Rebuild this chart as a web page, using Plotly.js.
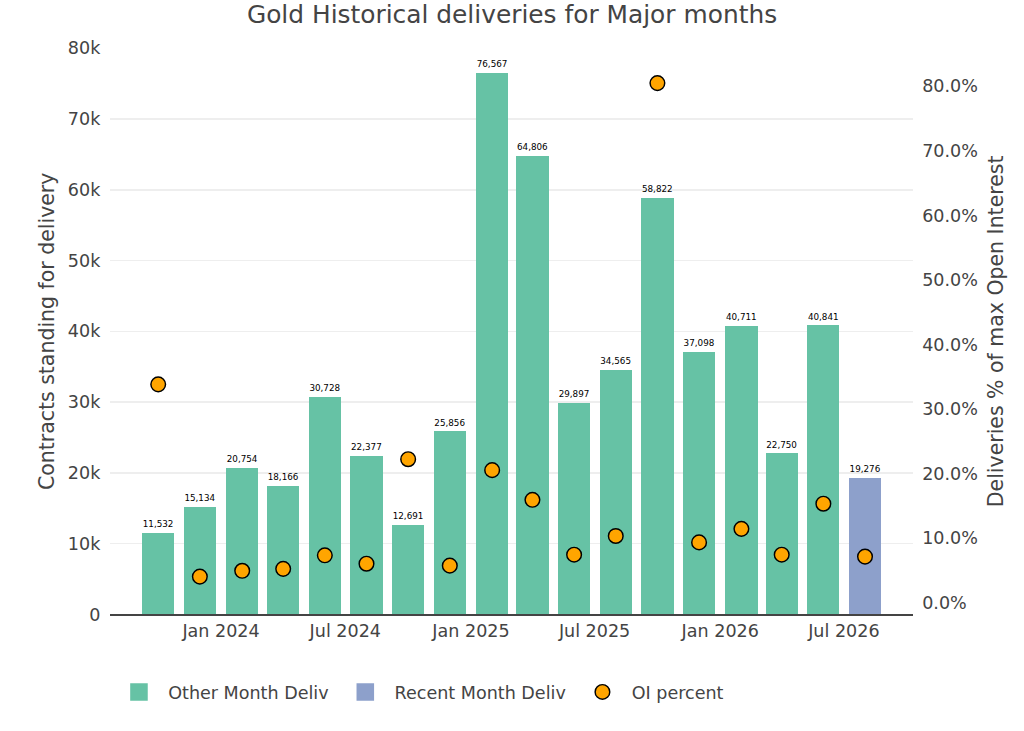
<!DOCTYPE html>
<html>
<head>
<meta charset="utf-8">
<script src="https://cdn.plot.ly/plotly-3.0.1.min.js"></script>
<style>
  html, body { margin: 0; padding: 0; background: #fff; width: 1024px; height: 731px; }
  #wrap { position: relative; width: 1024px; height: 731px; }
  /* chart is laid out at 700x500 and exported at ~1.463x, like the original png */
  #chart { position: absolute; left: 0; top: 0; width: 700px; height: 500px;
           transform: scale(1.462857); transform-origin: 0 0; }
</style>
</head>
<body>
<div id="wrap"><div id="chart"></div></div>
<script>
// delivery months (first of month)
const otherMonths = ['2023-10-01', '2023-12-01', '2024-02-01', '2024-04-01', '2024-06-01',
  '2024-08-01', '2024-10-01', '2024-12-01', '2025-02-01', '2025-04-01', '2025-06-01',
  '2025-08-01', '2025-10-01', '2025-12-01', '2026-02-01', '2026-04-01', '2026-06-01'];
const otherDeliv = [11532, 15134, 20754, 18166, 30728, 22377, 12691, 25856, 76567, 64806,
  29897, 34565, 58822, 37098, 40711, 22750, 40841];

const recentMonths = ['2026-08-01'];
const recentDeliv = [19276];

const oiMonths = otherMonths.concat(recentMonths);
const oiPercent = [0.338, 0.040, 0.049, 0.052, 0.073, 0.060, 0.222, 0.057, 0.205, 0.159,
  0.074, 0.103, 0.805, 0.093, 0.114, 0.074, 0.153, 0.071];

const fontFamily = 'Verdana, "DejaVu Sans", sans-serif';

const data = [
  {
    x: otherMonths,
    y: otherDeliv,
    name: 'Other Month Deliv',
    type: 'bar',
    marker: { color: '#66c2a5' },
    text: otherDeliv.map(v => v.toLocaleString('en-US')),
    textposition: 'outside',
    textfont: { size: 6, color: '#000', family: fontFamily },
    cliponaxis: false
  },
  {
    x: recentMonths,
    y: recentDeliv,
    name: 'Recent Month Deliv',
    type: 'bar',
    marker: { color: '#8da0cb' },
    text: recentDeliv.map(v => v.toLocaleString('en-US')),
    textposition: 'outside',
    textfont: { size: 6, color: '#000', family: fontFamily },
    cliponaxis: false
  },
  {
    x: oiMonths,
    y: oiPercent,
    name: 'OI percent',
    type: 'scatter',
    mode: 'markers',
    yaxis: 'y2',
    marker: {
      color: '#ffa500',
      size: 10,
      line: { color: '#000', width: 1 }
    }
  }
];

const layout = {
  width: 700,
  height: 500,
  font: { family: fontFamily, color: '#444', size: 12 },
  paper_bgcolor: '#fff',
  plot_bgcolor: '#fff',
  title: {
    text: 'Gold Historical deliveries for Major months',
    font: { size: 17, color: '#444' },
    x: 0.5,
    xanchor: 'center',
    y: 0.981,
    yanchor: 'middle'
  },
  margin: { l: 75, r: 76, t: 33, b: 80 },
  barmode: 'stack',
  bargap: 0.2,
  showlegend: true,
  legend: {
    orientation: 'h',
    traceorder: 'normal',
    x: 0,
    xanchor: 'left',
    yref: 'container',
    y: 0.054,
    yanchor: 'middle',
    font: { size: 12 }
  },
  xaxis: {
    type: 'date',
    range: ['2023-07-22', '2026-10-10'],
    dtick: 'M6',
    tick0: '2024-01-01',
    tickformat: '%b %Y',
    showgrid: false,
    showline: true,
    linecolor: '#444',
    linewidth: 1,
    ticks: ''
  },
  yaxis: {
    title: { text: 'Contracts standing for delivery', font: { size: 14 } },
    range: [0, 80000],
    dtick: 10000,
    tickformat: '~s',
    gridcolor: '#eeeeee',
    zeroline: false,
    ticks: 'outside',
    ticklen: 3,
    tickcolor: 'rgba(0,0,0,0)'
  },
  yaxis2: {
    title: { text: 'Deliveries % of max Open Interest', font: { size: 14 }, standoff: 8 },
    overlaying: 'y',
    side: 'right',
    range: [-0.0186, 0.859],
    dtick: 0.1,
    tickformat: '.1%',
    showgrid: false,
    zeroline: false,
    ticks: 'outside',
    ticklen: 3,
    tickcolor: 'rgba(0,0,0,0)'
  }
};

Plotly.newPlot('chart', data, layout, { displayModeBar: false, responsive: false });
</script>
</body>
</html>
